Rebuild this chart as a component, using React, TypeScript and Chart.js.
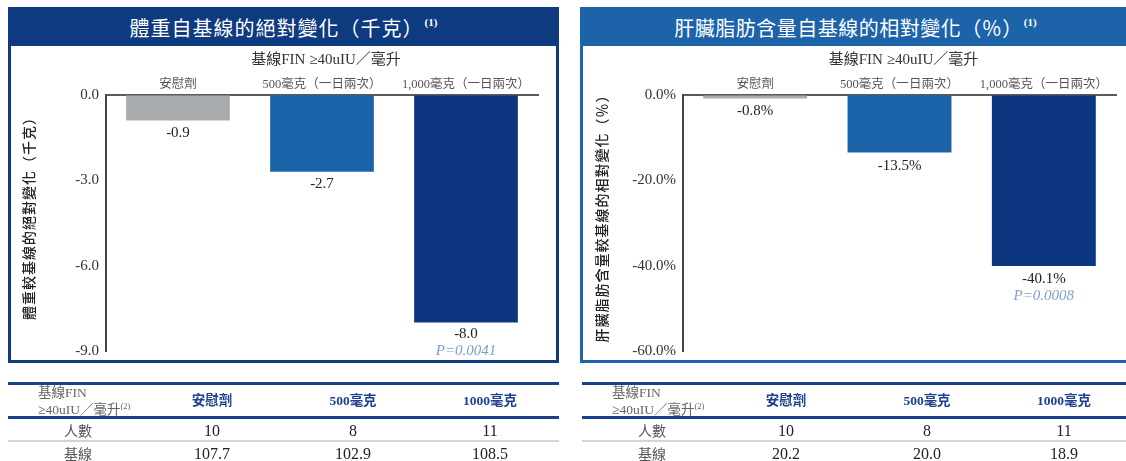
import React, { useEffect, useRef } from 'react';
import { Chart, registerables } from 'chart.js';

Chart.register(...registerables);

// ---------- data ----------
const categories = ['安慰劑', '500毫克（一日兩次）', '1,000毫克（一日兩次）'];
const weightChange = [-0.9, -2.7, -8.0];
const liverFatChange = [-0.8, -13.5, -40.1];
const weightPValues = ['', '', 'P=0.0041'];
const liverPValues = ['', '', 'P=0.0008'];
const weightAxisRange = [-9, 0, 3];
const liverAxisRange = [-60, 0, 20];
const subtitleText = '基線FIN ≥40uIU／毫升';
const weightTitle = '體重自基線的絕對變化（千克）';
const liverTitle = '肝臟脂肪含量自基線的相對變化（％）';
const weightYTitle = '體重較基線的絕對變化（千克）';
const liverYTitle = '肝臟脂肪含量較基線的相對變化（％）';
const tableGroups = ['安慰劑', '500毫克', '1000毫克'];
const participants = [10, 8, 11];
const weightBaseline = [107.7, 102.9, 108.5];
const liverBaseline = [20.2, 20.0, 18.9];

const barColors = ['#a8abae', '#1c64a9', '#0d3680'];
const SERIF = '"Liberation Serif", "Noto Sans CJK TC", serif';
const CJK = '"Noto Sans CJK TC", "Noto Sans", sans-serif';

type ChartProps = {
  values: number[];
  pValues: string[];
  unit: string;
  range: number[];
  yTitle: string;
  yTitleSpacing: string;
  left: number;
  axisWidth: number;
  padRight: number;
  labelOffset: number;
  pOffset: number;
  yTitleX: number;
};

function BarChart(props: ChartProps) {
  const ref = useRef<HTMLCanvasElement>(null);
  useEffect(() => {
    const { values, pValues, unit, range, yTitle, yTitleSpacing, axisWidth, padRight, labelOffset, pOffset, yTitleX } = props;
    const annot = {
      id: 'annot',
      afterDatasetsDraw(chart: any) {
        const ctx = chart.ctx as CanvasRenderingContext2D;
        const meta = chart.getDatasetMeta(0);
        ctx.save();
        ctx.textAlign = 'center';
        ctx.textBaseline = 'middle';
        meta.data.forEach((bar: any, i: number) => {
          const { x, y } = bar.getProps(['x', 'y'], true);
          ctx.font = `15px ${SERIF}`;
          ctx.fillStyle = '#222';
          ctx.fillText(values[i].toFixed(1) + unit, x, y + labelOffset);
          if (pValues[i]) {
            ctx.font = `italic 15px ${SERIF}`;
            ctx.fillStyle = '#7f9fcd';
            ctx.fillText(pValues[i], x, y + pOffset);
          }
        });
        const ca = chart.chartArea;
        ctx.font = `15px ${SERIF}`;
        ctx.fillStyle = '#333';
        ctx.fillText(subtitleText, (ca.left + ca.right) / 2 + 4, 14);
        ctx.translate(yTitleX, 169);
        ctx.rotate(-Math.PI / 2);
        ctx.font = `500 14px ${CJK}`;
        ctx.fillStyle = '#222';
        (ctx as any).letterSpacing = yTitleSpacing;
        ctx.fillText(yTitle, 0, 0);
        ctx.restore();
      },
    };
    const chart = new Chart(ref.current as HTMLCanvasElement, {
      type: 'bar',
      data: {
        labels: categories,
        datasets: [
          {
            data: values,
            backgroundColor: barColors,
            borderWidth: 0,
            barPercentage: 0.72,
            categoryPercentage: 1,
          },
        ],
      },
      options: {
        animation: false,
        responsive: false,
        maintainAspectRatio: false,
        devicePixelRatio: 1,
        layout: { padding: { left: 0, top: 0, right: padRight, bottom: 9 } },
        plugins: {
          legend: { display: false },
          tooltip: { enabled: false },
          title: { display: false },
        },
        scales: {
          x: {
            position: 'top',
            z: 1,
            grid: { display: true, drawOnChartArea: false, drawTicks: false },
            border: { display: true, color: '#5a5a5a', width: 2 },
            ticks: {
              font: { family: SERIF, size: 12.5 },
              color: '#555',
              padding: 3,
              maxRotation: 0,
              autoSkip: false,
            },
            afterFit: (s: any) => {
              s.height = 49;
              s.paddingLeft = 0;
              s.paddingRight = 0;
            },
          },
          y: {
            min: range[0],
            max: range[1],
            grid: { display: true, drawOnChartArea: false, drawTicks: false },
            border: { display: true, color: '#444', width: 2 },
            ticks: {
              stepSize: range[2],
              callback: (v: any) => Number(v).toFixed(1) + unit,
              font: { family: SERIF, size: 15 },
              color: '#333',
              padding: 7,
            },
            afterFit: (s: any) => {
              s.width = axisWidth;
              s.paddingTop = 0;
              s.paddingBottom = 0;
            },
          },
        },
      } as any,
      plugins: [annot],
    });
    return () => chart.destroy();
  }, []);
  return (
    <canvas
      ref={ref}
      width={545}
      height={314}
      style={{ position: 'absolute', left: props.left, top: 46, width: 545, height: 314 }}
    />
  );
}

function Panel({ left, color, title, spacing }: { left: number; color: string; title: string; spacing: number }) {
  return (
    <div
      style={{
        position: 'absolute',
        left,
        top: 7,
        width: 551,
        height: 356,
        border: `3px solid ${color}`,
        boxSizing: 'border-box',
        background: '#fff',
      }}
    >
      <div
        style={{
          position: 'absolute',
          left: 0,
          top: 0,
          right: 0,
          height: 36,
          background: color,
          color: '#fff',
          display: 'flex',
          alignItems: 'center',
          justifyContent: 'center',
          fontFamily: CJK,
          fontSize: 20,
          lineHeight: '36px',
        }}
      >
        <span style={{ letterSpacing: spacing }}>{title}</span>
        <span
          style={{
            fontFamily: SERIF,
            fontWeight: 'bold',
            fontSize: 11,
            position: 'relative',
            top: -6,
            marginLeft: 1,
          }}
        >
          (1)
        </span>
      </div>
    </div>
  );
}

function DataTable({ left, baseline }: { left: number; baseline: number[] }) {
  const colX = [204, 345, 482];
  const abs = (x: number, y: number): React.CSSProperties => ({
    position: 'absolute',
    left: x,
    top: y,
    transform: 'translate(-50%, -50%)',
    whiteSpace: 'nowrap',
    lineHeight: 1,
  });
  const line = (y: number, h: number, c: string): React.CSSProperties => ({
    position: 'absolute',
    left: 0,
    width: 551,
    top: y,
    height: h,
    background: c,
  });
  return (
    <div style={{ position: 'absolute', left, top: 0, width: 551, height: 461 }}>
      <div style={line(382, 3, '#1a3f8c')} />
      <div style={line(416, 3, '#1a3f8c')} />
      <div style={line(440, 2, '#d4d4d4')} />
      <div
        style={{
          position: 'absolute',
          left: 30,
          top: 384,
          fontFamily: SERIF,
          fontSize: 13.5,
          color: '#666',
          lineHeight: '17px',
          whiteSpace: 'nowrap',
        }}
      >
        <div>基線FIN</div>
        <div>
          ≥40uIU／毫升<span style={{ fontSize: 8.5, position: 'relative', top: -5 }}>(2)</span>
        </div>
      </div>
      {tableGroups.map((g, i) => (
        <div
          key={g}
          style={{ ...abs(colX[i], 401), fontFamily: SERIF, fontWeight: 'bold', fontSize: 13.5, color: '#1f3f8f' }}
        >
          {g}
        </div>
      ))}
      <div style={{ ...abs(70, 430), fontFamily: CJK, fontSize: 14, color: '#555' }}>人數</div>
      <div style={{ ...abs(70, 453), fontFamily: CJK, fontSize: 14, color: '#555' }}>基線</div>
      {participants.map((n, i) => (
        <div key={'n' + i} style={{ ...abs(colX[i], 431), fontFamily: SERIF, fontSize: 16, color: '#222' }}>
          {n}
        </div>
      ))}
      {baseline.map((b, i) => (
        <div key={'b' + i} style={{ ...abs(colX[i], 454), fontFamily: SERIF, fontSize: 16, color: '#222' }}>
          {b.toFixed(1)}
        </div>
      ))}
    </div>
  );
}

export default function App() {
  return (
    <div
      style={{
        position: 'fixed',
        left: 0,
        top: 0,
        width: 1126,
        height: 461,
        overflow: 'hidden',
        background: '#fff',
      }}
    >
      <Panel left={8} color="#0e3a80" title={weightTitle} spacing={1} />
      <Panel left={580} color="#1c63aa" title={liverTitle} spacing={0.5} />
      <BarChart
        values={weightChange}
        pValues={weightPValues}
        unit=""
        range={weightAxisRange}
        yTitle={weightYTitle}
        yTitleSpacing="1px"
        left={11}
        axisWidth={95}
        padRight={18}
        labelOffset={12}
        pOffset={29}
        yTitleX={18}
      />
      <BarChart
        values={liverFatChange}
        pValues={liverPValues}
        unit="%"
        range={liverAxisRange}
        yTitle={liverYTitle}
        yTitleSpacing="1px"
        left={583}
        axisWidth={100}
        padRight={12}
        labelOffset={13}
        pOffset={30}
        yTitleX={19}
      />
      <DataTable left={8} baseline={weightBaseline} />
      <DataTable left={582} baseline={liverBaseline} />
    </div>
  );
}
